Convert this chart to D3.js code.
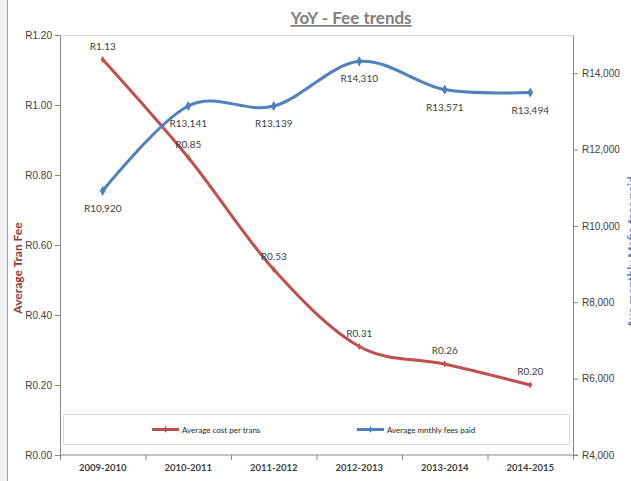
<!DOCTYPE html>
<html>
<head>
<meta charset="utf-8">
<script src="https://cdn.jsdelivr.net/npm/d3@7"></script>
<style>
	body { margin: 0; background: #fff; }
	svg { display: block; font-family: Lato, "Open Sans", sans-serif; }
	.axis path, .axis line { stroke: #868686; }
	.axis text { fill: #404040; font-size: 10px; }
	.lbl { fill: #404040; font-size: 10px; }
</style>
</head>
<body>
<svg width="631" height="481"></svg>
<script>
// chart data
var categories = ["2009-2010", "2010-2011", "2011-2012", "2012-2013", "2013-2014", "2014-2015"];
var costPerTrans = [1.13, 0.85, 0.53, 0.31, 0.26, 0.20];
var monthlyFees = [10920, 13141, 13139, 14310, 13571, 13494];
var leftTicks = [0, 0.2, 0.4, 0.6, 0.8, 1.0, 1.2];
var rightTicks = [4000, 6000, 8000, 10000, 12000, 14000];
var seriesNames = ["Average cost per trans", "Average mnthly fees paid"];

var svg = d3.select("svg"),
	margin = {top: 35, right: 58, bottom: 26, left: 60},
	width = +svg.attr("width") - margin.left - margin.right,
	height = +svg.attr("height") - margin.top - margin.bottom;

// grey strip on the left of the window
svg.append("rect").attr("x", 0).attr("y", 0).attr("width", 7).attr("height", 481).attr("fill", "#f0f0f0");
svg.append("line").attr("x1", 7.5).attr("x2", 7.5).attr("y1", 0).attr("y2", 481).attr("stroke", "#a0a0a0");

var g = svg.append("g").attr("transform", "translate(" + margin.left + "," + margin.top + ")");

var x = d3.scaleBand().domain(categories).range([0, width]);
var yL = d3.scaleLinear().domain([0, 1.2]).range([height, 0]);
var yR = d3.scaleLinear().domain([4000, 15000]).range([height, 0]);

// plot area border (top)
g.append("line").attr("x1", 0).attr("x2", width).attr("y1", 0.5).attr("y2", 0.5).attr("stroke", "#d9d9d9");

// legend box
var legend = g.append("g");
legend.append("rect")
	.attr("x", 3.5).attr("y", 379.5)
	.attr("width", 506).attr("height", 30)
	.attr("fill", "none").attr("stroke", "#d9d9d9");

// axes
g.append("g").attr("class", "axis")
	.call(d3.axisLeft(yL).tickValues(leftTicks).tickSize(5).tickSizeOuter(0)
		.tickFormat(function(d) { return "R" + d3.format(".2f")(d); }))
	.call(function(a) { a.selectAll("text").attr("x", -8); });

g.append("g").attr("class", "axis")
	.attr("transform", "translate(" + width + ",0)")
	.call(d3.axisRight(yR).tickValues(rightTicks).tickSize(5).tickSizeOuter(0)
		.tickFormat(function(d) { return "R" + d3.format(",")(d); }))
	.call(function(a) { a.selectAll("text").attr("x", 9); });

var xAxis = g.append("g").attr("class", "axis")
	.attr("transform", "translate(0," + height + ")");
xAxis.append("line").attr("x1", 0).attr("x2", width + 5).attr("stroke", "#868686");
xAxis.selectAll(".tk").data(categories.concat([null])).enter().append("line")
	.attr("x1", function(d, i) { return i * x.bandwidth() + 0.5; })
	.attr("x2", function(d, i) { return i * x.bandwidth() + 0.5; })
	.attr("y1", 0).attr("y2", 5).attr("stroke", "#868686");
xAxis.selectAll(".cat").data(categories).enter().append("text")
	.attr("x", function(d) { return x(d) + x.bandwidth() / 2; })
	.attr("y", 16)
	.attr("text-anchor", "middle")
	.style("font-weight", "bold")
	.style("font-size", "9.5px")
	.attr("fill", "#262626")
	.text(function(d) { return d; });

// lines
var cx = function(d, i) { return x(categories[i]) + x.bandwidth() / 2; };
var redLine = d3.line().x(cx).y(function(d) { return yL(d); }).curve(d3.curveCatmullRom.alpha(0));
var blueLine = d3.line().x(cx).y(function(d) { return yR(d); }).curve(d3.curveCatmullRom.alpha(0));

g.append("path").datum(costPerTrans).attr("d", redLine)
	.attr("fill", "none").attr("stroke", "#c0504d").attr("stroke-width", 3);
g.append("path").datum(monthlyFees).attr("d", blueLine)
	.attr("fill", "none").attr("stroke", "#4f81bd").attr("stroke-width", 3);

var diamond = d3.symbol().type(d3.symbolDiamond).size(30);
g.selectAll(".mr").data(costPerTrans).enter().append("path")
	.attr("d", d3.symbol().type(d3.symbolDiamond).size(14))
	.attr("transform", function(d, i) { return "translate(" + cx(d, i) + "," + yL(d) + ")"; })
	.attr("fill", "#c0504d");
g.selectAll(".mb").data(monthlyFees).enter().append("path")
	.attr("d", diamond)
	.attr("transform", function(d, i) { return "translate(" + cx(d, i) + "," + yR(d) + ")"; })
	.attr("fill", "#4f81bd");

// data labels
g.selectAll(".lr").data(costPerTrans).enter().append("text")
	.attr("class", "lbl")
	.attr("x", cx)
	.attr("y", function(d) { return yL(d) - 10; })
	.attr("text-anchor", "middle")
	.text(function(d) { return "R" + d3.format(".2f")(d); });
g.selectAll(".lb").data(monthlyFees).enter().append("text")
	.attr("class", "lbl")
	.attr("x", cx)
	.attr("y", function(d) { return yR(d) + 21; })
	.attr("text-anchor", "middle")
	.text(function(d) { return "R" + d3.format(",")(d); });

// legend entries
var legendItems = [
	{name: seriesNames[0], color: "#c0504d", x: 92},
	{name: seriesNames[1], color: "#4f81bd", x: 297}
];
legendItems.forEach(function(it) {
	legend.append("line")
		.attr("x1", it.x).attr("x2", it.x + 27)
		.attr("y1", 394.5).attr("y2", 394.5)
		.attr("stroke", it.color).attr("stroke-width", 3);
	legend.append("path")
		.attr("d", d3.symbol().type(d3.symbolDiamond).size(14))
		.attr("transform", "translate(" + (it.x + 13.5) + ",394.5)")
		.attr("fill", it.color);
	legend.append("text")
		.attr("x", it.x + 30).attr("y", 397.5)
		.style("font-size", "8px").attr("fill", "#262626")
		.text(it.name);
});

// titles
svg.append("text")
	.attr("x", 351).attr("y", 24)
	.attr("text-anchor", "middle")
	.style("font-size", "17px").style("font-weight", "bold")
	.style("text-decoration", "underline")
	.attr("fill", "#7f7f7f")
	.text("YoY - Fee trends");

svg.append("text")
	.attr("transform", "translate(22,268) rotate(-90)")
	.attr("text-anchor", "middle")
	.style("font-size", "12px").style("font-weight", "bold")
	.attr("fill", "#953735")
	.text("Average Tran Fee");

svg.append("text")
	.attr("transform", "translate(636,252) rotate(-90)")
	.attr("text-anchor", "middle")
	.style("font-size", "12px").style("font-weight", "bold")
	.attr("fill", "#4f81bd")
	.text("Ave monthly Mafie fees paid");
</script>
</body>
</html>
